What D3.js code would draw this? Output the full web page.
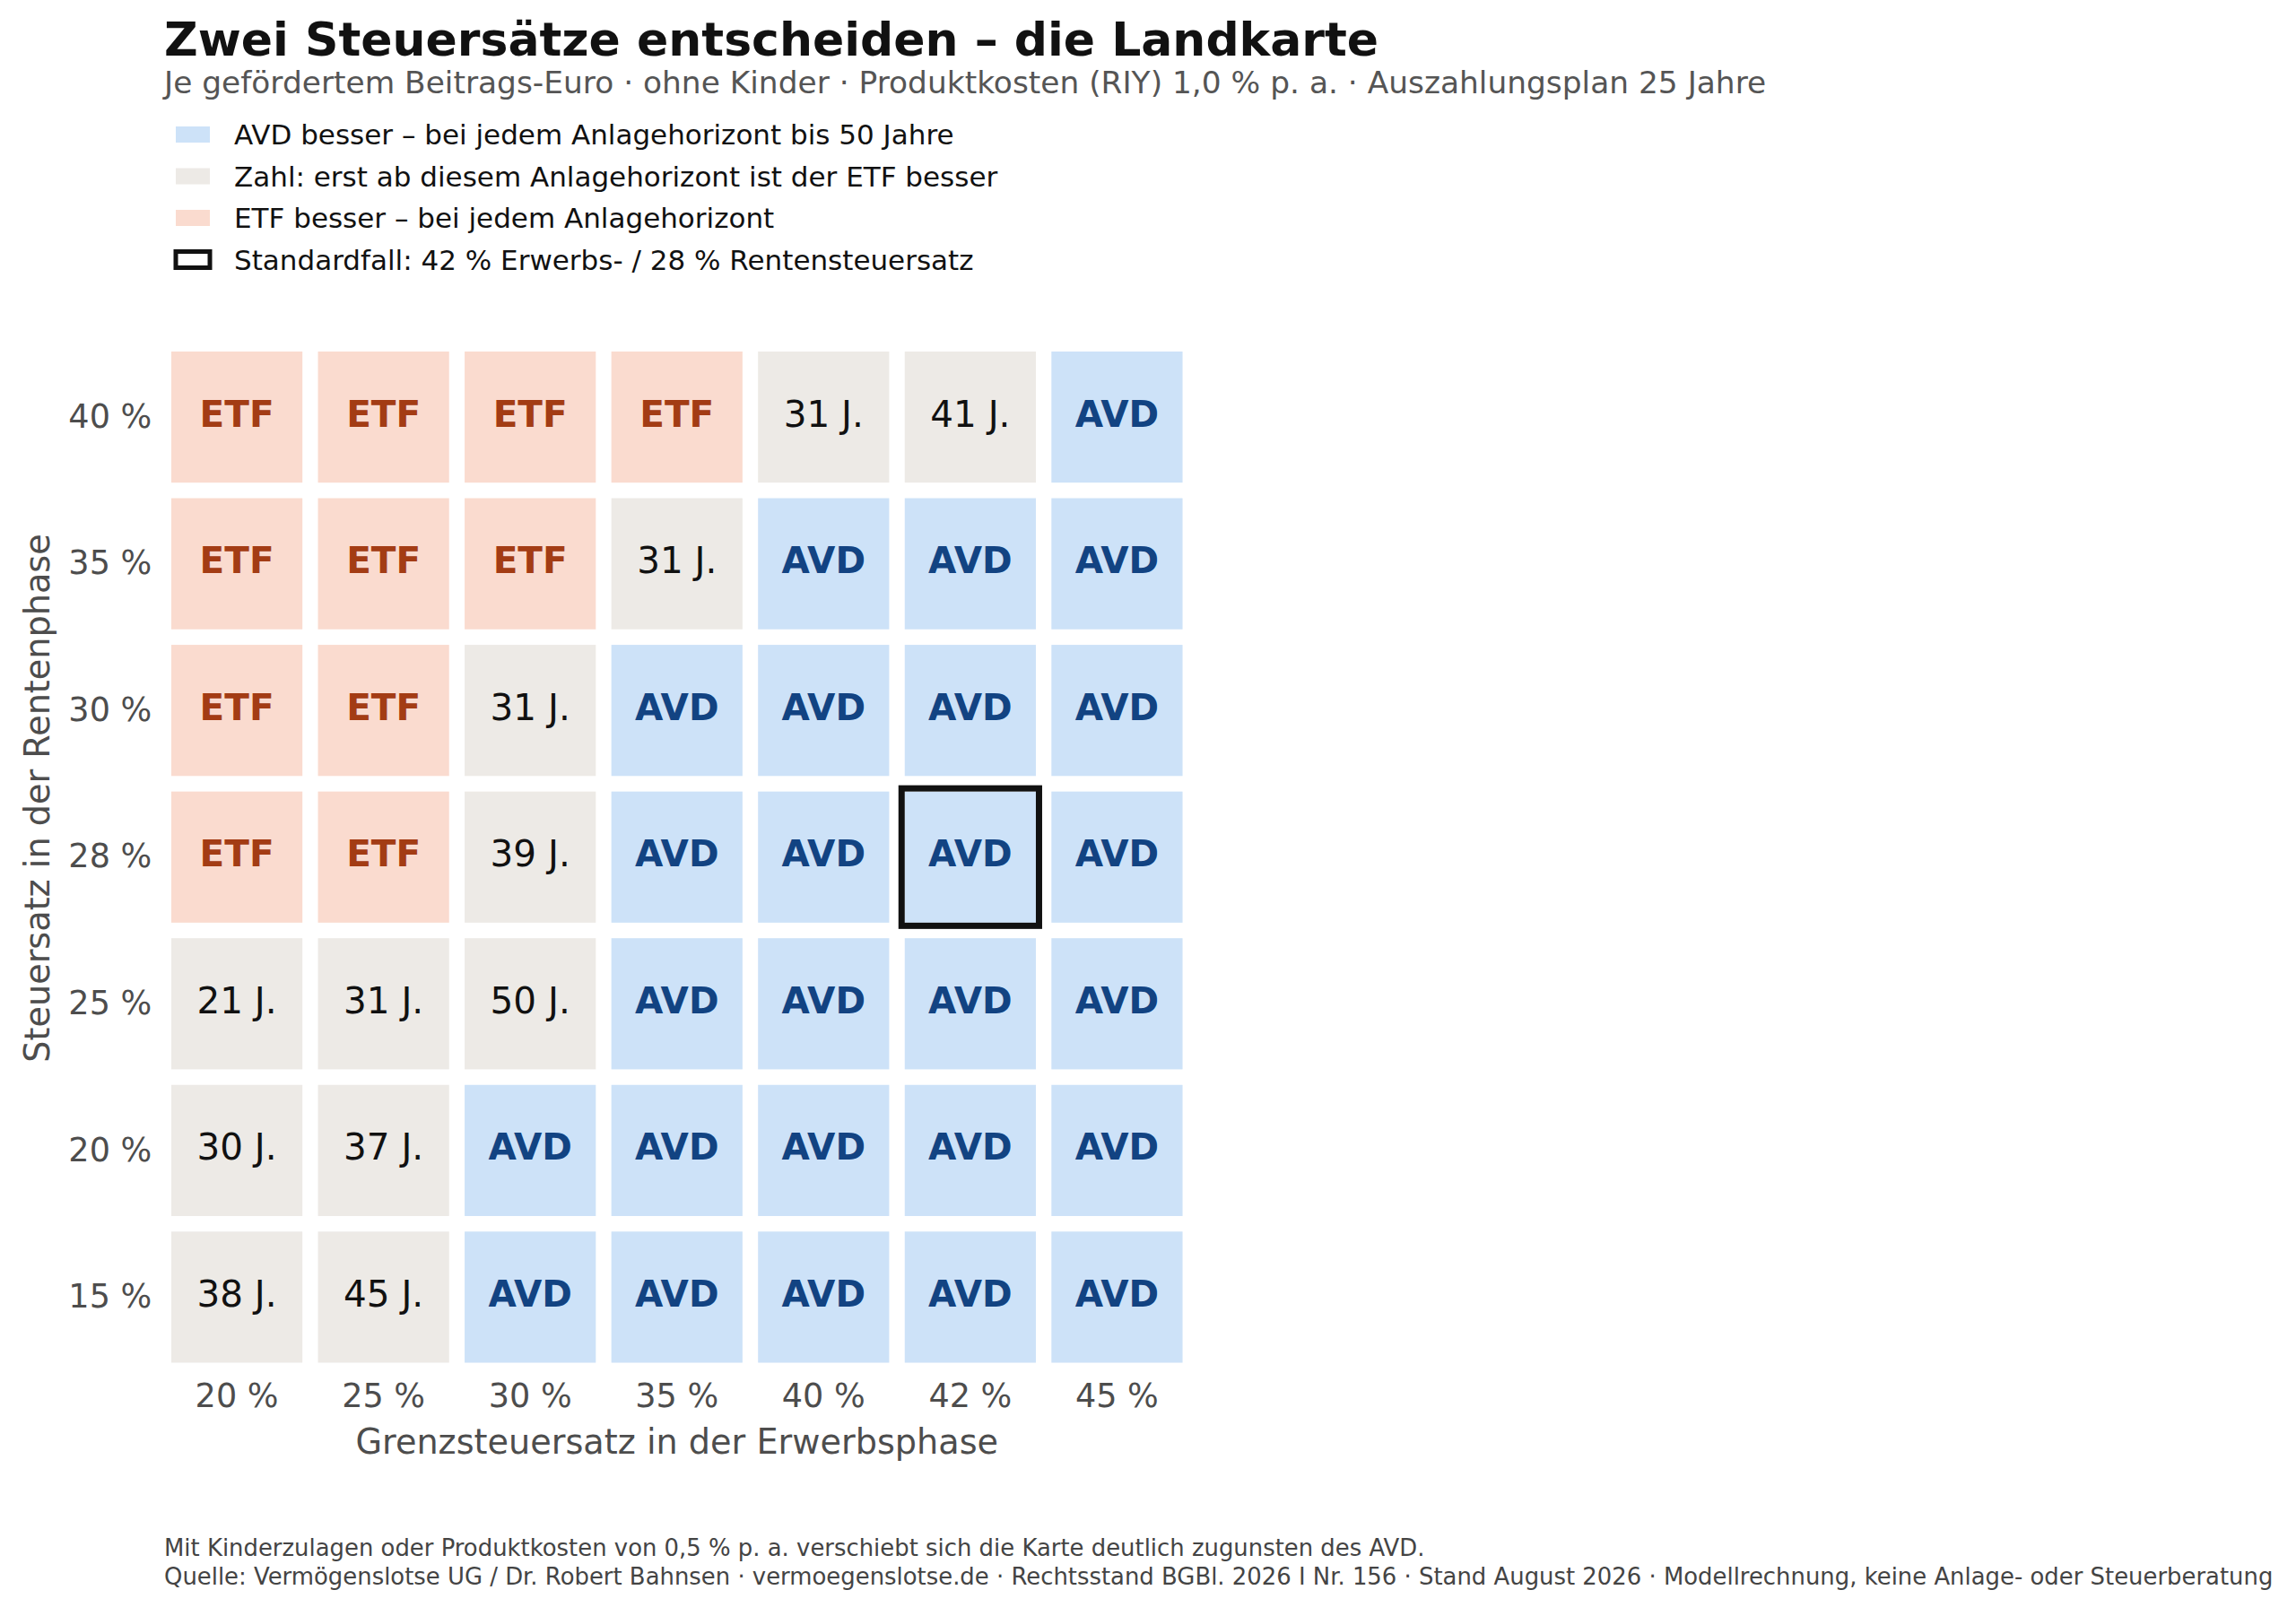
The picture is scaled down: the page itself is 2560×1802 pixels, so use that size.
<!DOCTYPE html>
<html><head><meta charset="utf-8">
<script src="https://cdn.jsdelivr.net/npm/d3@7"></script>
<style>html,body{margin:0;padding:0;background:#fff;} svg{display:block;font-family:"DejaVu Sans",sans-serif;}</style>
</head><body>
<script>
// ---- data ----
const erwerbsRates = ["20 %","25 %","30 %","35 %","40 %","42 %","45 %"];
const rentenRates  = ["40 %","35 %","30 %","28 %","25 %","20 %","15 %"];
// per row (Rentensteuersatz, top to bottom): "ETF", "AVD" or break-even horizon in years
const row40 = ["ETF","ETF","ETF","ETF",31,41,"AVD"];
const row35 = ["ETF","ETF","ETF",31,"AVD","AVD","AVD"];
const row30 = ["ETF","ETF",31,"AVD","AVD","AVD","AVD"];
const row28 = ["ETF","ETF",39,"AVD","AVD","AVD","AVD"];
const row25 = [21,31,50,"AVD","AVD","AVD","AVD"];
const row20 = [30,37,"AVD","AVD","AVD","AVD","AVD"];
const row15 = [38,45,"AVD","AVD","AVD","AVD","AVD"];
const rows = [row40,row35,row30,row28,row25,row20,row15];
const standardCase = {x:"42 %", y:"28 %"};
const legendItems = [
  {key:"AVD", label:"AVD besser – bei jedem Anlagehorizont bis 50 Jahre"},
  {key:"NUM", label:"Zahl: erst ab diesem Anlagehorizont ist der ETF besser"},
  {key:"ETF", label:"ETF besser – bei jedem Anlagehorizont"},
  {key:"STD", label:"Standardfall: 42 % Erwerbs- / 28 % Rentensteuersatz"}
];
const titleText = "Zwei Steuersätze entscheiden – die Landkarte";
const subtitleText = "Je gefördertem Beitrags-Euro · ohne Kinder · Produktkosten (RIY) 1,0 % p. a. · Auszahlungsplan 25 Jahre";
const footnote1 = "Mit Kinderzulagen oder Produktkosten von 0,5 % p. a. verschiebt sich die Karte deutlich zugunsten des AVD.";
const footnote2 = "Quelle: Vermögenslotse UG / Dr. Robert Bahnsen · vermoegenslotse.de · Rechtsstand BGBl. 2026 I Nr. 156 · Stand August 2026 · Modellrechnung, keine Anlage- oder Steuerberatung";

// ---- styles ----
const fillColor = {ETF:"#fadbcf", NUM:"#edeae6", AVD:"#cde2f8"};
const textColor = {ETF:"#a33c14", NUM:"#111111", AVD:"#124382"};

const W = 2560, H = 1802;
const svg = d3.select("body").append("svg").attr("width",W).attr("height",H);

const cells = [];
rows.forEach((r,i)=>r.forEach((v,j)=>{
  const key = (v==="ETF"||v==="AVD") ? v : "NUM";
  cells.push({x:erwerbsRates[j], y:rentenRates[i], v, key});
}));

const x = d3.scaleBand().domain(erwerbsRates).range([182.3,1327.2]).paddingInner(0.106).paddingOuter(0.053);
const y = d3.scaleBand().domain(rentenRates).range([383.3,1528.2]).paddingInner(0.106).paddingOuter(0.053);

// title
svg.append("text").attr("x",183).attr("y",62).attr("font-size",52).attr("font-weight","bold").attr("fill","#111").text(titleText);
svg.append("text").attr("x",183).attr("y",104).attr("font-size",34.4).attr("fill","#555").text(subtitleText);

// legend
const lg = svg.append("g");
legendItems.forEach((it,i)=>{
  const cy = 150 + i*46.5;
  if(it.key==="STD"){
    lg.append("rect").attr("x",196).attr("y",cy-9).attr("width",38).attr("height",18)
      .attr("fill","none").attr("stroke","#111").attr("stroke-width",5);
  } else {
    lg.append("rect").attr("x",196).attr("y",cy-9).attr("width",38).attr("height",18).attr("fill",fillColor[it.key]);
  }
  lg.append("text").attr("x",261).attr("y",cy).attr("dy","0.36em").attr("font-size",31).attr("fill","#111").text(it.label);
});

// cells
const g = svg.append("g");
g.selectAll("rect.cell").data(cells).join("rect").attr("class","cell")
  .attr("x",d=>x(d.x)).attr("y",d=>y(d.y)).attr("width",x.bandwidth()).attr("height",y.bandwidth())
  .attr("fill",d=>fillColor[d.key]);
g.selectAll("text.lab").data(cells).join("text").attr("class","lab")
  .attr("x",d=>x(d.x)+x.bandwidth()/2).attr("y",d=>y(d.y)+y.bandwidth()/2)
  .attr("text-anchor","middle").attr("dy","0.26em").attr("font-size",40.5)
  .attr("font-weight",d=>d.key==="NUM"?"normal":"bold")
  .attr("fill",d=>textColor[d.key])
  .text(d=>d.key==="NUM"? d.v+" J." : d.v);

// standard case highlight (stroke sits outside the cell)
const hs = 7;
g.append("rect").attr("x",x(standardCase.x)-hs/2).attr("y",y(standardCase.y)-hs/2)
  .attr("width",x.bandwidth()+hs).attr("height",y.bandwidth()+hs)
  .attr("fill","none").attr("stroke","#111").attr("stroke-width",hs);

// axes
const xAxis = svg.append("g").attr("transform","translate(0,1528.2)")
  .call(d3.axisBottom(x).tickSize(0).tickPadding(15));
xAxis.select(".domain").remove();
xAxis.selectAll("text").attr("font-size",36.6).attr("fill","#4d4d4d").attr("font-family","DejaVu Sans");

const yAxis = svg.append("g").attr("transform","translate(182.3,0)")
  .call(d3.axisLeft(y).tickSize(0).tickPadding(13));
yAxis.select(".domain").remove();
yAxis.selectAll("text").attr("font-size",36.6).attr("fill","#4d4d4d").attr("font-family","DejaVu Sans");

svg.append("text").attr("x",(182.3+1327.2)/2).attr("y",1621).attr("text-anchor","middle")
  .attr("font-size",38.2).attr("fill","#4d4d4d").text("Grenzsteuersatz in der Erwerbsphase");
svg.append("text").attr("transform","translate(55,890) rotate(-90)").attr("text-anchor","middle")
  .attr("font-size",38.2).attr("fill","#4d4d4d").text("Steuersatz in der Rentenphase");

// footer
svg.append("text").attr("x",183).attr("y",1735).attr("font-size",25.9).attr("fill","#444").text(footnote1);
svg.append("text").attr("x",183).attr("y",1767).attr("font-size",25.9).attr("fill","#444").text(footnote2);
</script>
</body></html>
